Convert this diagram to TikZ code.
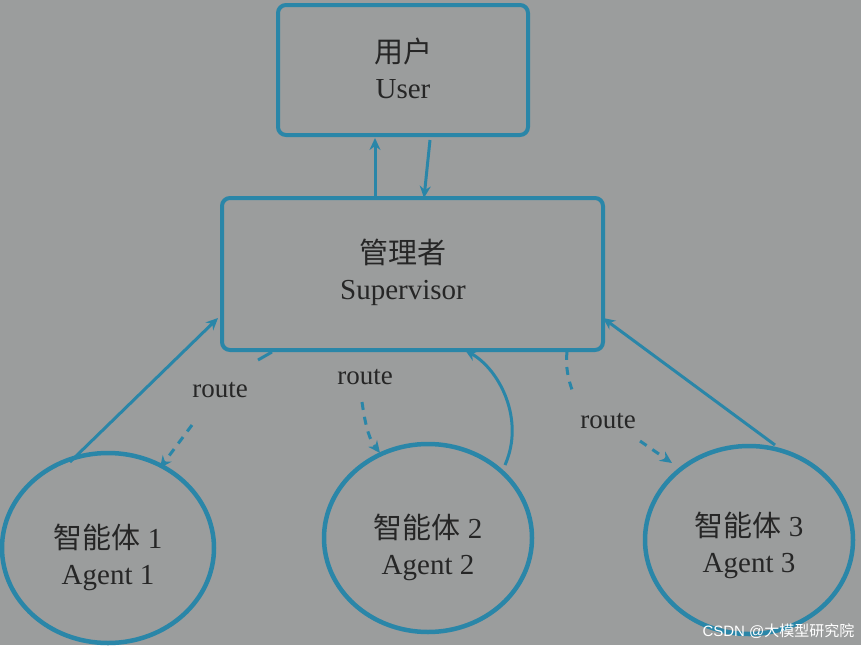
\documentclass[tikz,border=0pt]{standalone}
\usepackage{fontspec}
\setmainfont{Liberation Serif}
\newfontfamily\cjk{Noto Sans CJK SC}
\newfontfamily\wmf{Liberation Sans}
\usetikzlibrary{arrows.meta}
\definecolor{bg}{HTML}{9B9D9D}
\definecolor{ln}{HTML}{2A86A8}
\begin{document}
\begin{tikzpicture}[x=1pt,y=-1pt,
  box/.style={draw=ln,line width=4pt,rounded corners=8pt},
  ag/.style={draw=ln,line width=4.5pt},
  con/.style={draw=ln,line width=3pt,-{Stealth[length=12pt,width=11pt]}},
  dsh/.style={con,dashed,dash pattern=on 8pt off 7pt},
  txt/.style={font=\fontsize{29}{36}\selectfont,align=center,text=black!85},
  lab/.style={font=\fontsize{27}{30}\selectfont,text=black!85}]
\fill[bg] (0,0) rectangle (861,645);
\useasboundingbox (0,0) rectangle (861,645);
\draw[box] (278,5) rectangle (528,135);
\node[txt] (user) at (403,68) {{\cjk 用户}\\User};
\draw[box] (222,198) rectangle (603,350);
\node[txt] (sup) at (403,272) {{\cjk 管理者}\\Supervisor};
\draw[ag] (108,548) ellipse [x radius=106,y radius=95];
\node[txt] (a1) at (108,557) {{\cjk 智能体} 1\\Agent 1};
\draw[ag] (428,538) ellipse [x radius=104,y radius=94];
\node[txt] (a2) at (428,547) {{\cjk 智能体} 2\\Agent 2};
\draw[ag] (749,540) ellipse [x radius=104,y radius=94];
\node[txt] (a3) at (749,545) {{\cjk 智能体} 3\\Agent 3};
\coordinate (u1) at (375,198); \coordinate (u2) at (375,138);
\coordinate (d1) at (430,140); \coordinate (d2) at (424,198);
\draw[con] (u1) -- (u2);
\draw[con] (d1) -- (d2);
\coordinate (p1) at (70,462); \coordinate (q1) at (218,318);
\draw[con] (p1) -- (q1);
\coordinate (r1a) at (272,352); \coordinate (r1b) at (160,468);
\node[lab] (l1) at (220,390) {route};
\draw[line width=3pt,ln] (r1a) -- (258,360);
\draw[dsh] (192,425) -- (r1b);
\node[lab] (l2) at (365,377) {route};
\draw[dsh] (362,402) .. controls (366,430) and (370,440) .. (380,453);
\coordinate (p2) at (505,465); \coordinate (q2) at (465,350);
\draw[con] (p2) .. controls (525,420) and (500,370) .. (q2);
\node[lab] (l3) at (608,421) {route};
\draw[ln,line width=3pt,dashed,dash pattern=on 8pt off 7pt] (567,352) .. controls (565,370) and (570,385) .. (574,395);
\draw[dsh] (640,441) -- (672,463);
\coordinate (p3) at (775,445); \coordinate (q3) at (603,318);
\draw[con] (p3) -- (q3);
\node[font=\wmf\fontsize{15}{17}\selectfont,text=white,anchor=south east] (wm) at (858,642) {CSDN @{\cjk 大模型研究院}};
\end{tikzpicture}
\end{document}
